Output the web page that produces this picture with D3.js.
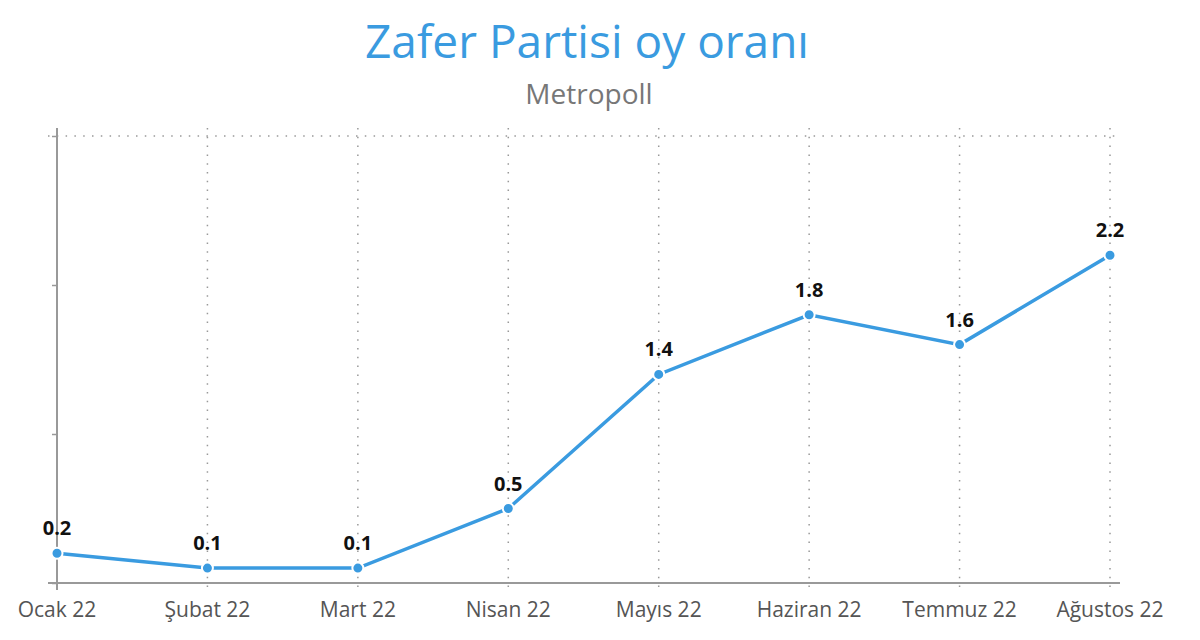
<!DOCTYPE html>
<html>
<head>
<meta charset="utf-8">
<script src="https://cdn.jsdelivr.net/npm/d3@7"></script>
<style>
  body { margin: 0; background: #fff; }
  text { font-family: "Open Sans", "Noto Sans", sans-serif; }
</style>
</head>
<body>
<script>
// data
var months = ["Ocak 22", "Şubat 22", "Mart 22", "Nisan 22", "Mayıs 22", "Haziran 22", "Temmuz 22", "Ağustos 22"];
var values = [0.2, 0.1, 0.1, 0.5, 1.4, 1.8, 1.6, 2.2];
var yTicks = [0, 1, 2, 3];

var width = 1200, height = 640;
var blue = "#3a9be0";

var svg = d3.select("body").append("svg")
    .attr("width", width)
    .attr("height", height);

var x = d3.scalePoint().domain(months).range([57, 1110]);
var y = d3.scaleLinear().domain([0, 3]).range([583, 136]);

// title
svg.append("text")
    .attr("x", 587).attr("y", 58)
    .attr("text-anchor", "middle")
    .style("font-size", "46px")
    .style("fill", blue)
    .text("Zafer Partisi oy oranı");
svg.append("text")
    .attr("x", 589).attr("y", 104)
    .attr("text-anchor", "middle")
    .style("font-size", "28px")
    .style("fill", "#777")
    .text("Metropoll");

// vertical dotted grid
svg.append("g").selectAll("line")
    .data(months)
    .join("line")
    .attr("x1", function(d) { return x(d); })
    .attr("x2", function(d) { return x(d); })
    .attr("y1", y(3) - 8)
    .attr("y2", y(0) + 8)
    .attr("stroke", "#999")
    .attr("stroke-width", 1.5)
    .attr("stroke-dasharray", "1.5,7.3");

// top dotted grid line
svg.append("line")
    .attr("x1", x(months[0]) - 9).attr("x2", x(months[7]) + 10)
    .attr("y1", y(3)).attr("y2", y(3))
    .attr("stroke", "#999")
    .attr("stroke-width", 1.5)
    .attr("stroke-dasharray", "1.5,7.3");

// y axis (ticks without labels)
var yAxis = d3.axisLeft(y).tickValues(yTicks).tickSize(5).tickFormat("");
var gy = svg.append("g")
    .attr("transform", "translate(" + x(months[0]) + ",0)")
    .call(yAxis);
gy.select(".domain").remove();
gy.selectAll(".tick line").attr("stroke", "#999").attr("stroke-width", 1.5);
svg.append("line")
    .attr("x1", x(months[0])).attr("x2", x(months[0]))
    .attr("y1", y(3) - 8).attr("y2", y(0) + 7)
    .attr("stroke", "#999")
    .attr("stroke-width", 2);

// x axis line
svg.append("line")
    .attr("x1", x(months[0]) - 9).attr("x2", x(months[7]) + 10)
    .attr("y1", y(0)).attr("y2", y(0))
    .attr("stroke", "#999")
    .attr("stroke-width", 2);

// x labels
svg.append("g").selectAll("text")
    .data(months)
    .join("text")
    .attr("x", function(d) { return x(d); })
    .attr("y", 617)
    .attr("text-anchor", "middle")
    .style("font-size", "21px")
    .style("fill", "#555")
    .text(function(d) { return d; });

var pts = months.map(function(m, i) { return { m: m, v: values[i] }; });

// line
var line = d3.line()
    .x(function(d) { return x(d.m); })
    .y(function(d) { return y(d.v); });
svg.append("path")
    .datum(pts)
    .attr("d", line)
    .attr("fill", "none")
    .attr("stroke", blue)
    .attr("stroke-width", 3.5);

// markers
svg.append("g").selectAll("circle")
    .data(pts)
    .join("circle")
    .attr("cx", function(d) { return x(d.m); })
    .attr("cy", function(d) { return y(d.v); })
    .attr("r", 5.5)
    .attr("fill", blue)
    .attr("stroke", "#fff")
    .attr("stroke-width", 2);

// value labels
svg.append("g").selectAll("text")
    .data(pts)
    .join("text")
    .attr("x", function(d) { return x(d.m); })
    .attr("y", function(d) { return y(d.v) - 18; })
    .attr("text-anchor", "middle")
    .style("font-size", "20px")
    .style("font-weight", "bold")
    .style("fill", "#111")
    .text(function(d) { return d.v.toFixed(1); });
</script>
</body>
</html>
